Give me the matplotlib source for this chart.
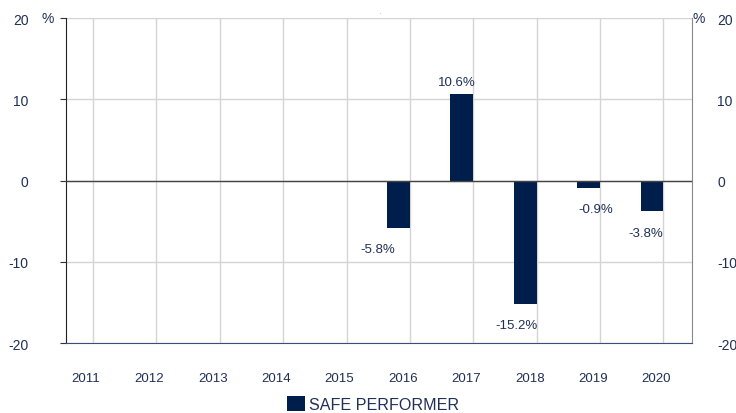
import matplotlib.pyplot as plt
import numpy as np

plt.rcParams['font.family'] = ['Liberation Sans', 'DejaVu Sans']
plt.rcParams['axes.unicode_minus'] = False

years = ["2011", "2012", "2013", "2014", "2015", "2016", "2017", "2018", "2019", "2020"]
returns = [np.nan, np.nan, np.nan, np.nan, np.nan, -5.8, 10.6, -15.2, -0.9, -3.8]
series_name = "SAFE PERFORMER"

# horizontal nudges of the value labels (in category units), as in the original
label_shift = [0, 0, 0, 0, 0, -0.32, -0.08, -0.14, 0.11, -0.1]

navy = "#001e4b"
text_col = "#1f2f55"

fig = plt.figure(figsize=(7.36, 4.14), dpi=100)
ax = fig.add_axes([66/736, 1-344/414, (692-66)/736, (344-19)/414])

x = np.arange(len(years))
bw = 0.36
bars = ax.bar(x - bw/2, returns, width=bw, color=navy, label=series_name, zorder=3)

# value labels
for xi, v, dx in zip(x, returns, label_shift):
    if np.isnan(v):
        continue
    if v >= 0:
        ax.text(xi - bw/2 + dx, v + 0.8, f"{v:.1f}%", ha="center", va="bottom", fontsize=9.5, color=text_col)
    else:
        ax.text(xi - bw/2 + dx, v - 1.9, f"{v:.1f}%", ha="center", va="top", fontsize=9.5, color=text_col)

ax.set_xlim(-0.425, 9.45)
ax.set_ylim(-20, 20)
ax.set_yticks([-20, -10, 0, 10, 20])
ax.set_xticks(x)
ax.set_xticklabels([])
for xi, yr in zip(x, years):
    ax.text(xi - 0.11, -0.107, yr, transform=ax.get_xaxis_transform(), ha="center", va="center",
            fontsize=9.5, color=text_col)

ax.grid(True, color="#d4d4d4", linewidth=1, zorder=0)
ax.axhline(0, color="#444444", linewidth=1, zorder=4)
ax.tick_params(axis="x", length=0)
ax.tick_params(axis="y", length=4, color="#333333", labelsize=10, labelcolor=text_col, pad=23,
               left=True, right=False)

ax.spines["top"].set_visible(False)
ax.spines["left"].set_color("#222222")
ax.spines["right"].set_color("#888888")
ax.spines["bottom"].set_color("#3a5078")

ax2 = ax.twinx()
ax2.set_ylim(-20, 20)
ax2.set_yticks([-20, -10, 0, 10, 20])
ax2.tick_params(axis="y", length=0, labelsize=10, labelcolor=text_col, pad=18)
for s in ax2.spines.values():
    s.set_visible(False)

ax.text(-0.03, 1.0, "%", transform=ax.transAxes, ha="center", va="center", fontsize=10, color=text_col)
ax.text(1.011, 1.0, "%", transform=ax.transAxes, ha="center", va="center", fontsize=10, color=text_col)
fig.text(380/736, 1-12/414, ".", fontsize=4, color="#555555", ha="center", va="center")

leg = fig.legend(handles=[bars], labels=[series_name], loc="center", bbox_to_anchor=(373/736, 1-405/414),
                 frameon=False, fontsize=11.6, handlelength=1.1, handleheight=1.1, handletextpad=0.25)
for t in leg.get_texts():
    t.set_color(text_col)

fig.savefig("out.png", dpi=100)
